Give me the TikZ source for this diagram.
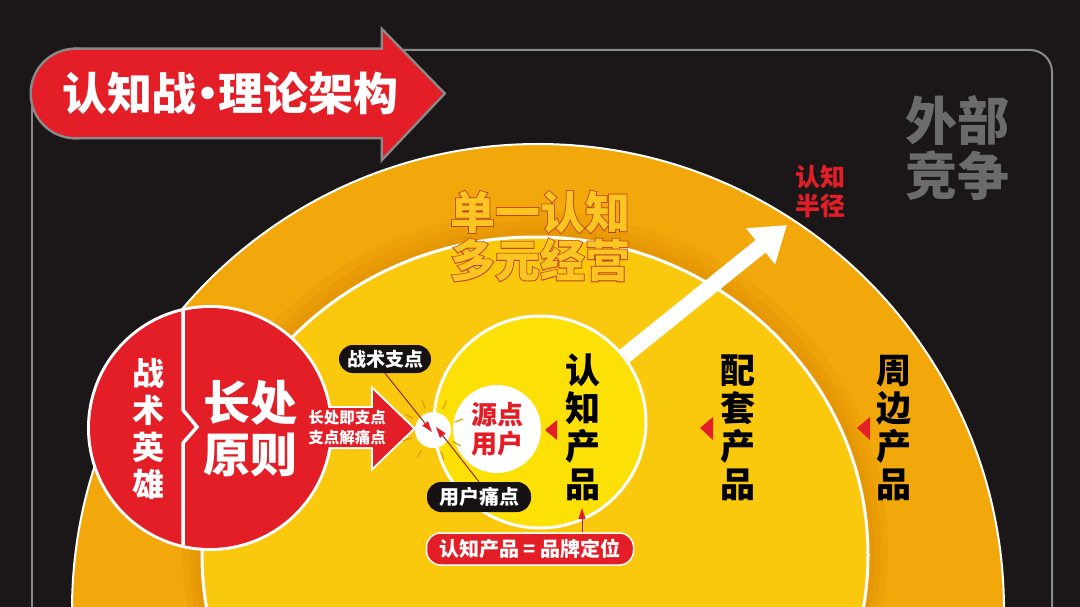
\documentclass[tikz,border=0pt]{standalone}
\usepackage{fontspec}
\setmainfont{Noto Sans CJK SC}
\newfontfamily\outlinefont{Noto Sans CJK SC}[FakeBold=3.5]
\usetikzlibrary{arrows.meta,shapes.geometric}
\definecolor{bg}{HTML}{1B1718}
\definecolor{framegrey}{HTML}{8A8A8A}
\definecolor{redc}{HTML}{E31E26}
\definecolor{outerc}{HTML}{F2A80B}
\definecolor{shadowc}{HTML}{DD8A04}
\definecolor{midc}{HTML}{FAC80C}
\definecolor{corec}{HTML}{FDE106}
\definecolor{greytxt}{HTML}{6B6B6B}
\definecolor{goldtxt}{HTML}{FBC622}
\definecolor{goldout}{HTML}{C2401C}
\definecolor{sparkc}{HTML}{E09A06}
\definecolor{thinline}{HTML}{8E2A1C}
\definecolor{pillc}{HTML}{161213}
\newcommand{\fs}[2]{\fontsize{#1}{#2}\selectfont\bfseries}
\newcommand{\ofs}[2]{\outlinefont\fontsize{#1}{#2}\selectfont\bfseries}
\tikzset{
  vtext/.style={align=center, inner sep=0pt, text=black},
  pillbox/.style={rounded corners=14pt, inner sep=0pt, text=white},
  pointer/.style={thinline, line width=1pt, -{Triangle[length=11pt,width=7pt,color=redc]}},
  marker/.style={fill=redc},
}
\begin{document}
\begin{tikzpicture}[x=1pt,y=-1pt]
\useasboundingbox (0,0) rectangle (1080,607);
\clip (0,0) rectangle (1080,607);
\fill[bg] (0,0) rectangle (1080,607);

% frame
\draw[framegrey, line width=2pt, rounded corners=22pt] (400,50) -- (1052,50) -- (1052,640);
\draw[framegrey, line width=2pt] (32,100) -- (32,640);

% rings
\node[circle, minimum size=932pt, fill=outerc, draw=white, line width=2pt] (outer) at (538,610) {};
\node[ellipse, minimum width=706pt, minimum height=674pt, fill=shadowc, opacity=0.18] (shadow1) at (535,549) {};
\node[ellipse, minimum width=692pt, minimum height=660pt, fill=shadowc, opacity=0.22] (shadow2) at (535,551) {};
\node[ellipse, minimum width=680pt, minimum height=648pt, fill=shadowc, opacity=0.25] (shadow3) at (535,553) {};
\node[ellipse, minimum width=666pt, minimum height=636pt, fill=midc, draw=white, line width=3pt] (middle) at (535,555) {};

% labels in rings
\node[font=\ofs{45}{45}, text=goldout] (singleo) at (540,212) {单一认知};
\node[font=\ofs{45}{45}, text=goldout] (multio) at (540,260) {多元经营};
\node[font=\fs{45}{45}, text=goldtxt] (single) at (540,212) {单一认知};
\node[font=\fs{45}{45}, text=goldtxt] (multi) at (540,260) {多元经营};

\node[vtext, font=\fs{35}{38}] (match) at (738,428) {配\\套\\产\\品};
\node[vtext, font=\fs{35}{38}] (around) at (894,428) {周\\边\\产\\品};
\fill[marker] (700,428) -- (713,417) -- (713,440) -- cycle;
\fill[marker] (857,428) -- (870,417) -- (870,440) -- cycle;

% core circle
\node[circle, minimum size=212pt, fill=corec, draw=white, line width=3pt] (core) at (540,422) {};
\node[circle, minimum size=88pt, inner sep=0pt, fill=white, text=redc, align=center, font=\fs{26}{29}] (src) at (497,429) {源点\\用户};
\node[vtext, font=\fs{35}{38}] (cogprod) at (583,427) {认\\知\\产\\品};
\fill[marker] (545,430) -- (557,420) -- (557,440) -- cycle;

% radius arrow
\coordinate (radtip) at (787,225);
\draw[white, line width=16pt, -{Triangle[length=34pt,width=44pt]}] (core.38.6) -- (radtip);
\node[align=center, text=redc, font=\fs{25}{29}] (radius) at (820,192) {认知\\半径};
\node[align=center, text=greytxt, font=\fs{52}{55}] (external) at (957,148) {外部\\竞争};

% hero circle + arrow (union with white outline)
\node[circle, minimum size=240pt, draw=white, line width=6pt] (hero) at (210,428) {};
\draw[white, line width=4pt, line join=miter] (300,408) -- (373,408) -- (373,390) -- (413,428.5) -- (373,467) -- (373,447) -- (300,447) -- cycle;
\fill[redc] (hero.center) circle[radius=120pt];
\fill[redc] (300,408) -- (373,408) -- (373,390) -- (413,428.5) -- (373,467) -- (373,447) -- (300,447) -- cycle;
\draw[white, line width=3.5pt] (183,311) -- (183,410) -- (197,427) -- (183,443) -- (183,545);
\node[vtext, text=white, font=\fs{32}{37}] (tactic) at (148,429) {战\\术\\英\\雄};
\node[align=center, inner sep=0pt, text=white, font=\fs{47}{52}] (strength) at (250,429) {长处\\原则};
\node[align=center, inner sep=0pt, text=white, font=\fs{15.5}{20}] (arrowtxt) at (347,428) {长处即支点\\支点解痛点};

% pivot point
\node[circle, minimum size=36pt, fill=white] (pivot) at (433,430) {};
\foreach \a in {20,65,110,150,200,240,290,330} {
  \draw[sparkc, line width=1.2pt] (pivot.center) ++(\a:23pt) -- ++(\a:9pt);
}

% labels
\node[pillbox, fill=pillc, minimum width=92pt, minimum height=28pt, font=\fs{19}{19}] (tp) at (385,359) {战术支点};
\node[pillbox, fill=pillc, minimum width=104pt, minimum height=30pt, font=\fs{20}{20}] (pain) at (479,497) {用户痛点};
\node[pillbox, fill=redc, draw=white, line width=1.5pt, minimum width=207pt, minimum height=32pt, font=\fs{20}{20}] (eq) at (530,549) {认知产品 = 品牌定位};
\draw[pointer] (tp.south) -- ([xshift=-1pt,yshift=-2pt]pivot.center);
\draw[pointer] (pain.north) -- ([xshift=3pt,yshift=3pt]pivot.center);
\coordinate (eqtip) at (582,508);
\draw[pointer] (eq.north -| eqtip) -- (eqtip);

% title arrow
\draw[framegrey, line width=5pt] (75.5,93.5) circle[radius=43.5pt];
\draw[framegrey, line width=5pt, line join=miter] (75.5,50) -- (383,50) -- (383,32) -- (443,93.5) -- (383,157) -- (383,137) -- (75.5,137) -- cycle;
\fill[redc] (75.5,93.5) circle[radius=43.5pt];
\fill[redc] (75.5,50) -- (383,50) -- (383,32) -- (443,93.5) -- (383,157) -- (383,137) -- (75.5,137) -- cycle;
\node[text=white, font=\fs{45}{45}] (title) at (230,93) {认知战\hspace{-12pt}·\hspace{-12pt}理论架构};
\end{tikzpicture}
\end{document}
